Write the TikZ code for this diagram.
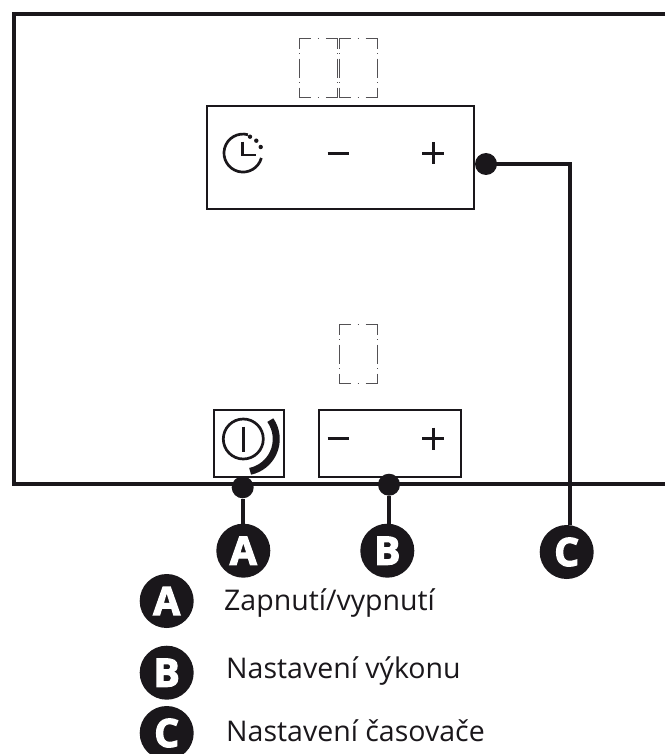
\documentclass[tikz,border=0pt]{standalone}
\usepackage{fontspec}
\setmainfont{Open Sans}
\newfontfamily\badgefont[BoldFeatures={FakeBold=3.2}]{Open Sans}
\definecolor{ink}{HTML}{1A171B}
\tikzset{
  panelline/.style={draw=ink,line width=2.3pt},
  frameline/.style={draw=ink,line width=4.2pt},
  leadline/.style={draw=ink,line width=4pt},
  symline/.style={draw=ink,line width=2.7pt},
  hdash/.style={draw=ink!75,line width=0.9pt,dash pattern=on 11.5pt off 7pt on 1pt off 7pt on 12pt},
  vdash/.style={draw=ink!75,line width=0.9pt,dash pattern=on 10pt off 4.5pt on 1pt off 4.5pt on 19pt off 4.5pt on 1pt off 4.5pt on 10pt},
  badge/.style={circle,fill=ink,text=white,minimum size=54pt,inner sep=0pt,font=\badgefont\bfseries\fontsize{39}{39}\selectfont},
  pin/.style={circle,fill=ink,minimum size=22pt,inner sep=0pt},
  legendtext/.style={anchor=base west,inner sep=0pt,text=ink,font=\fontsize{28.5}{32}\selectfont},
  dashrect/.pic={
    \path[hdash] (0,0) -- (38.4,0);
    \path[hdash] (0,59) -- (38.4,59);
    \path[vdash] (0,0) -- (0,59);
    \path[vdash] (38.4,0) -- (38.4,59);
  }
}
\begin{document}
\begin{tikzpicture}[x=1pt,y=-1pt]
\useasboundingbox (0,0) rectangle (665,754);
% frame
\path[frameline] (665,14) -- (14,14) -- (14,484) -- (665,484);
% timer panel
\node[panelline,minimum width=267.3pt,minimum height=103pt,inner sep=0pt] (timer) at (340.3,157.2) {};
\pic at (299.4,38.7) {dashrect};
\pic at (339.2,38.7) {dashrect};
% clock
\path[symline] (247.9,134.7) arc[start angle=-75,delta angle=-270,radius=19];
\path[symline] (242.3,141.7) -- (242.3,155) -- (256,155);
\fill[ink] (250,136.7) circle (2.2) (256.3,140.7) circle (2.2) (260.7,147) circle (2.2);
\path[symline] (327.7,153.3) -- (349.3,153.3);
\path[symline] (422.3,153.3) -- (444.3,153.3) (433.3,142.3) -- (433.3,164.3);
% power panels
\node[panelline,minimum width=70pt,minimum height=67.6pt,inner sep=0pt] (onoff) at (248.7,443.5) {};
\node[panelline,minimum width=142pt,minimum height=67.6pt,inner sep=0pt] (power) at (390.3,443.5) {};
\pic at (339.2,324.7) {dashrect};
\draw[ink,line width=2.7pt] (243.3,439) circle (20);
\path[symline] (243.3,426.7) -- (243.3,451.7);
\draw[ink,line width=7pt] (270.3,420.1) arc[start angle=-35,end angle=78,radius=33];
\path[symline] (327.7,438.7) -- (349.3,438.7);
\path[symline] (422.3,438.7) -- (444.3,438.7) (433.3,427.7) -- (433.3,449.7);
% pins
\node[pin] (pinA) at (242.7,487.3) {};
\node[pin] (pinB) at (389,484.7) {};
\node[pin] (pinC) at (486,164) {};
% badges
\node[badge] (badgeA) at (243.3,550.7) {A};
\node[badge] (badgeB) at (387.3,550.7) {B};
\node[badge] (badgeC) at (566.7,552) {C};
\coordinate (bendC) at (569.6,164);
\path[leadline] (pinA) -- (pinA |- badgeA.north);
\path[leadline] (pinB) -- (pinB |- badgeB.north);
\path[leadline] (pinC.center) -- (bendC) -- (bendC |- badgeC.north);
% legend
\node[badge] (keyA) at (166.7,601) {A};
\node[badge] (keyB) at (166.7,672.7) {B};
\node[badge] (keyC) at (166.7,733) {C};
\node[legendtext] (textA) at (224,610.7) {Zapnutí/vypnutí};
\node[legendtext] (textB) at (226,678) {Nastavení výkonu};
\node[legendtext] (textC) at (226,741.7) {Nastavení časovače};
\end{tikzpicture}
\end{document}
